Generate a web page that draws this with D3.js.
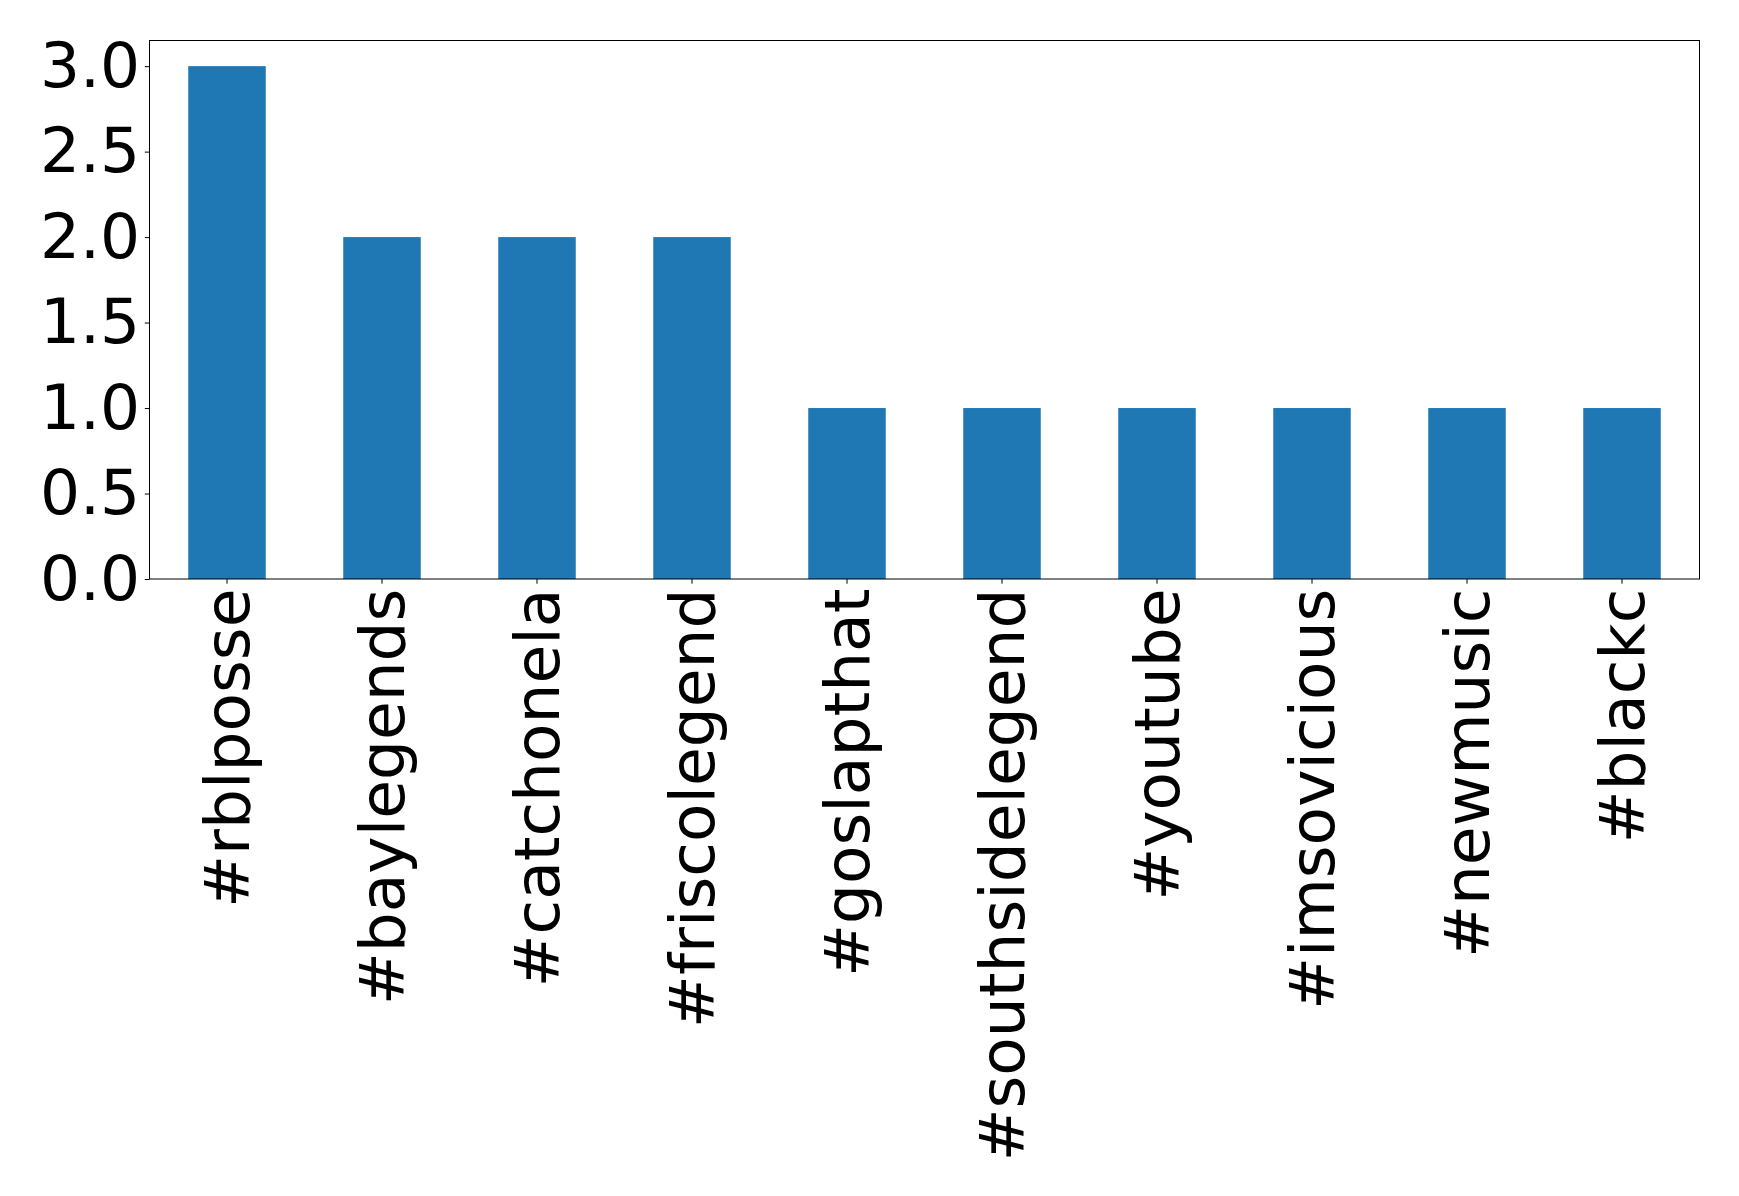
<!DOCTYPE html>
<html>
<head>
<meta charset="utf-8">
<script src="https://cdn.jsdelivr.net/npm/d3@7"></script>
<style>
  html, body { margin: 0; padding: 0; background: #fff; }
  svg { display: block; }
  text { font-family: "DejaVu Sans", sans-serif; fill: #000; }
</style>
</head>
<body>
<svg id="chart" width="1739" height="1196"></svg>
<script>
const categories = ["#rblposse", "#baylegends", "#catchonela", "#friscolegend", "#goslapthat",
  "#southsidelegend", "#youtube", "#imsovicious", "#newmusic", "#blackc"];
const values = [3, 2, 2, 2, 1, 1, 1, 1, 1, 1];
const yTicks = [0.0, 0.5, 1.0, 1.5, 2.0, 2.5, 3.0];

const W = 1739, H = 1196;
const margin = { left: 149.5, right: W - 1699.5, top: 40.5, bottom: H - 579 };
const fontSize = 63;

const svg = d3.select("#chart");
const x = d3.scaleBand().domain(categories)
  .range([margin.left, W - margin.right]).paddingInner(0.5).paddingOuter(0.25);
const yMax = d3.max(values) * 1.05;
const y = d3.scaleLinear().domain([0, yMax]).range([H - margin.bottom, margin.top]);

svg.append("g").selectAll("rect").data(values).join("rect")
  .attr("x", (d, i) => x(categories[i]))
  .attr("y", d => y(d))
  .attr("width", x.bandwidth())
  .attr("height", d => y(0) - y(d))
  .attr("fill", "#1f77b4");

const yAxis = svg.append("g").attr("transform", `translate(${margin.left},0)`)
  .call(d3.axisLeft(y).tickValues(yTicks).tickFormat(d3.format(".1f")).tickSize(4.7).tickPadding(4.7));
yAxis.select(".domain").remove();
yAxis.selectAll("line").attr("stroke", "#000").attr("stroke-width", 1);
yAxis.selectAll("text").attr("font-size", fontSize).attr("font-family", "DejaVu Sans").attr("fill", "#000");

const xAxis = svg.append("g").attr("transform", `translate(0,${H - margin.bottom})`)
  .call(d3.axisBottom(x).tickSize(4.7).tickPadding(4.7));
xAxis.select(".domain").remove();
xAxis.selectAll("line").attr("stroke", "#000").attr("stroke-width", 1);
xAxis.selectAll("text")
  .attr("font-size", fontSize).attr("font-family", "DejaVu Sans").attr("fill", "#000")
  .attr("transform", "rotate(-90)")
  .attr("text-anchor", "end")
  .attr("x", -9.6).attr("y", 0).attr("dy", "0.35em");

svg.append("rect")
  .attr("x", margin.left).attr("y", margin.top)
  .attr("width", W - margin.left - margin.right)
  .attr("height", H - margin.top - margin.bottom)
  .attr("fill", "none").attr("stroke", "#000").attr("stroke-width", 1);
</script>
</body>
</html>
